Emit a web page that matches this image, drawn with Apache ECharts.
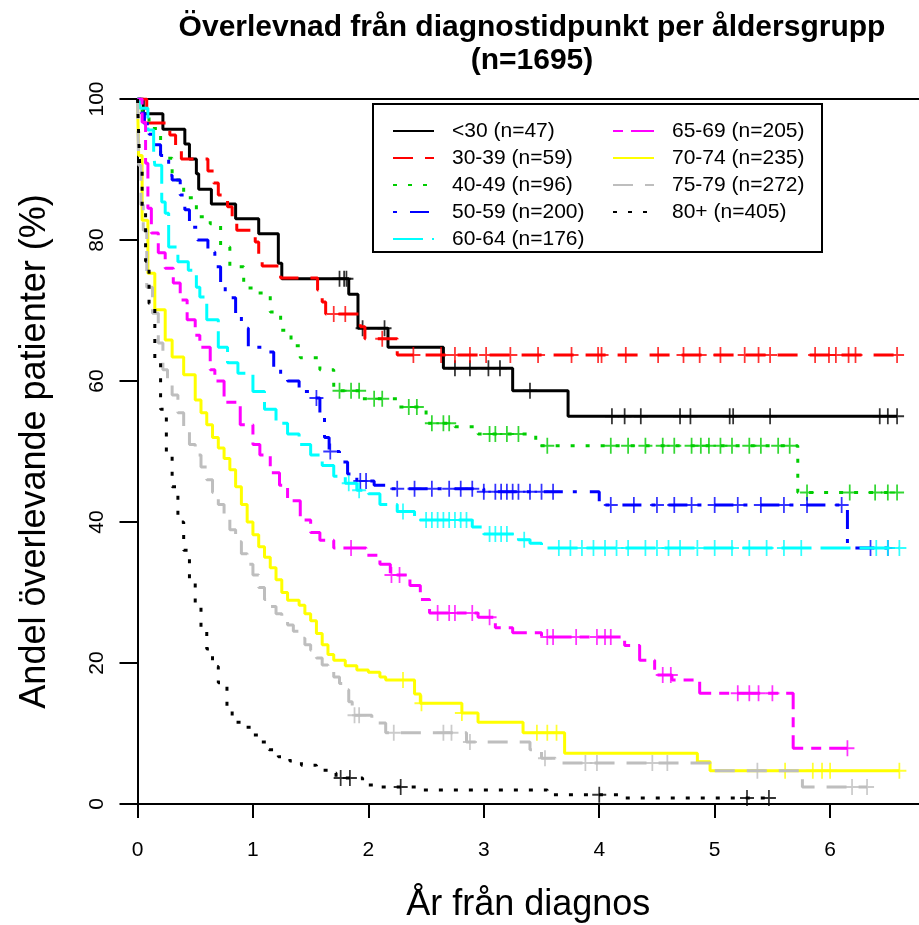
<!DOCTYPE html>
<html><head><meta charset="utf-8">
<script src="https://cdn.jsdelivr.net/npm/echarts@6/dist/echarts.min.js"></script>
<style>html,body{margin:0;padding:0;background:#fff}#c{width:919px;height:925px}</style>
</head><body><div id="c"></div>
<script>
// ---------- DATA ----------
const groupNames = ['<30 (n=47)','30-39 (n=59)','40-49 (n=96)','50-59 (n=200)','60-64 (n=176)','65-69 (n=205)','70-74 (n=235)','75-79 (n=272)','80+ (n=405)'];
const xTicks = [0,1,2,3,4,5,6];
const yTicks = [0,20,40,60,80,100];

// <30
const t_lt30 = [0,0.05,0.22,0.41,0.45,0.51,0.53,0.64,0.85,1.05,1.22,1.25,1.83,1.91,2.17,2.65,3.25,3.73];
const s_lt30 = [100,97.9,95.7,93.6,91.5,89.4,87.2,85.1,83.0,80.9,76.7,74.5,72.3,67.5,64.8,61.8,58.6,55.0];
const c_lt30 = [1.75,1.79,1.81,1.95,2.14,2.75,2.88,3.04,3.14,3.40,4.11,4.22,4.36,4.70,4.79,5.13,5.16,5.48,6.43,6.50,6.58];
// 30-39
const t_30 = [0,0.08,0.28,0.33,0.38,0.61,0.66,0.70,0.78,0.82,0.86,1.02,1.05,1.08,1.24,1.56,1.60,1.63,1.93,1.97,2.25];
const s_30 = [100,96.6,94.9,93.2,91.5,89.8,88.1,86.4,84.7,83.0,81.4,79.7,77.9,76.3,74.6,72.9,71.2,69.5,67.7,66.0,63.7];
const c_30 = [1.70,1.80,2.12,2.39,2.63,2.75,2.88,3.02,3.23,3.47,3.76,3.99,4.02,4.23,4.51,4.73,4.87,5.05,5.26,5.38,5.48,5.87,5.99,6.05,6.16,6.22,6.58];
// 40-49
const t_40 = [0,0.04,0.1,0.2,0.3,0.4,0.51,0.63,0.72,0.8,0.92,1.02,1.15,1.24,1.33,1.41,1.58,1.70,1.95,2.25,2.5,2.75,2.95,3.45,5.72];
const s_40 = [100,97.9,95.8,91.6,88.5,86.0,83.3,82.3,79.0,76.2,73.2,72.5,69.8,67.2,65.0,63.3,61.6,58.6,57.5,56.3,54.0,53.5,52.5,50.8,44.2];
const c_40 = [1.75,1.85,1.92,2.05,2.12,2.35,2.42,2.55,2.65,2.70,3.05,3.10,3.20,3.30,3.55,4.10,4.25,4.40,4.55,4.65,4.80,4.88,4.95,5.05,5.15,5.30,5.40,5.55,5.65,5.80,6.17,6.39,6.50,6.58];
// 50-59
const t_50 = [0,0.03,0.06,0.1,0.15,0.2,0.27,0.3,0.37,0.41,0.45,0.52,0.61,0.67,0.72,0.76,0.85,0.9,0.96,1.09,1.18,1.24,1.3,1.4,1.5,1.58,1.62,1.66,1.75,1.82,1.9,2.05,2.2,3.0,4.0,6.15];
const s_50 = [100,98,96.5,95,93.5,92,89.2,88.5,86.4,84.3,81.8,80,78.3,76.2,74,71.8,69.4,67.5,64.8,64.1,62.0,60.6,60.0,58.5,57.6,55,52,50.0,48.5,46.8,45.8,45.2,44.7,44.3,42.4,36.3];
const c_50 = [1.55,1.67,1.93,1.98,2.25,2.4,2.55,2.7,2.8,2.9,3.0,3.1,3.15,3.2,3.25,3.3,3.4,3.5,3.6,4.1,4.3,4.5,4.65,4.8,5.0,5.2,5.4,5.6,5.8,6.1,6.35,6.5];
// 60-64
const t_60 = [0,0.02,0.09,0.14,0.15,0.21,0.24,0.27,0.35,0.44,0.51,0.54,0.6,0.7,0.78,0.87,1.0,1.1,1.2,1.3,1.4,1.5,1.6,1.7,1.8,1.9,2.0,2.1,2.25,2.4,2.9,3.0,3.3,3.4,3.5];
const s_60 = [100,98.7,95.6,92.3,90.6,85.4,83.8,79.0,76.9,75.7,73.3,71.9,68.7,64.8,62.6,61.1,58.5,56.0,54.0,52.5,51.0,49.5,48.0,46.5,45.5,44.5,44.0,42.5,41.5,40.3,39.3,38.3,37.5,37.0,36.3];
const c_60 = [1.83,1.92,2.3,2.5,2.55,2.6,2.65,2.7,2.75,2.8,2.85,3.05,3.1,3.15,3.2,3.35,3.65,3.75,3.85,3.95,4.05,4.15,4.25,4.4,4.5,4.6,4.7,4.85,5.0,5.15,5.3,5.45,5.6,5.75,6.4,6.5,6.6];
// 65-69
const t_65 = [0,0.04,0.07,0.09,0.12,0.18,0.24,0.31,0.37,0.43,0.5,0.54,0.63,0.67,0.75,0.89,1.0,1.06,1.15,1.23,1.3,1.41,1.5,1.58,1.7,1.98,2.1,2.19,2.36,2.45,2.53,2.95,3.1,3.25,3.5,4.22,4.35,4.48,4.63,4.87,5.68];
const s_65 = [100,96.7,90.9,84.5,81.0,78.2,76.0,73.9,71.5,68.7,66.5,64.8,61.6,60.0,57.0,53.8,51.0,49.5,47.0,45.2,43.0,40.3,38.5,37.4,36.3,35.3,34.0,32.5,31.0,29.0,27.1,26.5,25.0,24.3,23.7,22.5,20.4,18.3,17.6,15.7,7.9];
const c_65 = [1.85,2.2,2.27,2.6,2.7,2.75,2.9,3.05,3.55,3.6,3.8,3.98,4.05,4.1,4.55,4.62,5.2,5.3,5.38,5.5,6.15];
// 70-74
const t_70 = [0,0.01,0.04,0.09,0.15,0.24,0.3,0.4,0.5,0.55,0.6,0.65,0.7,0.75,0.8,0.85,0.9,0.95,1.0,1.05,1.1,1.15,1.2,1.25,1.3,1.4,1.45,1.5,1.55,1.6,1.65,1.7,1.8,1.9,2.0,2.1,2.15,2.4,2.45,2.81,2.95,3.34,3.7,4.85,4.96];
const s_70 = [100,92,82.8,75.3,70.1,65.8,63.4,60.9,57.3,55.5,53.8,52.0,50.5,49.0,47.4,45.0,42.5,40.0,38.2,36.5,35.0,33.5,31.8,30.0,28.9,28.2,27.0,26.0,24.2,22.6,21.2,20.4,19.6,19.0,18.7,18.0,17.6,15.6,14.3,12.9,11.6,10.1,7.2,6.0,4.7];
const c_70 = [2.3,2.46,2.81,3.46,3.55,3.63,5.61,5.85,5.93,6.0,6.6];
// 75-79
const t_75 = [0,0.01,0.03,0.05,0.08,0.13,0.18,0.22,0.26,0.3,0.35,0.4,0.45,0.5,0.55,0.6,0.65,0.7,0.75,0.8,0.85,0.9,0.95,1.0,1.05,1.1,1.15,1.2,1.25,1.3,1.35,1.4,1.45,1.5,1.55,1.6,1.65,1.7,1.75,1.8,1.83,1.86,2.03,2.15,2.85,3.4,3.5,3.62,4.96,5.76];
const s_75 = [100,90.6,85,81.4,73.3,69.6,65.4,61.6,60.0,58.0,55.5,53.0,51.0,49.5,47.8,46.0,44.2,42.5,40.7,38.9,37.2,35.5,34.0,32.5,30.7,29.0,28.0,27.0,26.2,25.4,24.5,23.5,22.6,21.8,20.7,19.7,18.8,18.0,17.1,16.2,14.5,12.6,11.5,10.1,8.8,7.7,6.5,5.8,4.7,2.4];
const c_75 = [1.88,1.92,2.22,2.65,2.72,2.88,3.53,3.88,3.98,4.46,4.59,5.37,6.19,6.32];
// 80+
const t_80 = [0,0.01,0.02,0.04,0.07,0.1,0.15,0.2,0.25,0.3,0.35,0.4,0.45,0.5,0.55,0.6,0.65,0.7,0.775,0.82,0.92,0.98,1.06,1.14,1.22,1.32,1.42,1.55,1.65,1.72,1.95,2.05,2.45,3.55,4.2];
const s_80 = [100,95,90,84,77,71,63,56,50,45,40,36,32,28.5,25,22,19.5,17.2,13.6,11.6,10.9,9.8,8.8,7.7,6.7,6.1,5.5,4.8,4.4,3.7,2.7,2.4,2.0,1.3,0.85];
const c_80 = [1.76,1.84,2.28,4.0,5.28,5.47];

const times = [t_lt30,t_30,t_40,t_50,t_60,t_65,t_70,t_75,t_80];
const survs = [s_lt30,s_30,s_40,s_50,s_60,s_65,s_70,s_75,s_80];
const cens  = [c_lt30,c_30,c_40,c_50,c_60,c_65,c_70,c_75,c_80];

// ---------- STYLE ----------
const colors = ['#000000','#ff0000','#00cd00','#0000ff','#00ffff','#ff00ff','#ffff00','#bebebe','#000000'];
const dashes = ['solid',[20,12],[4,11],[4,13,19,10],[30,9],[10,8,23,8],'solid',[20,12],[4,11]];
const FONT = 'Liberation Sans, Arial, sans-serif';

function survAt(ts, ss, t){ let v = ss[0]; for (let i=0;i<ts.length;i++){ if (ts[i] <= t) v = ss[i]; } return v; }

const series = [];
groupNames.forEach((name,i)=>{
  const ts = times[i], ss = survs[i], cs = cens[i];
  const pts = ts.map((t,k)=>[t, ss[k]]);
  const lastC = cs.length ? cs[cs.length-1] : ts[ts.length-1];
  if (lastC > ts[ts.length-1]) pts.push([lastC, ss[ss.length-1]]);
  series.push({
    name, type:'line', step:'end', data: pts, symbol:'none', showSymbol:false,
    lineStyle:{color:colors[i], width:3, type:dashes[i]}, itemStyle:{color:colors[i]},
    z: 2+i, animation:false, silent:true
  });
  series.push({
    name: name + ' censur', type:'scatter', data: cs.map(t=>[t, survAt(ts, ss, t)]),
    symbol:'path://M0,7L16,7L16,9L0,9ZM7,0L9,0L9,16L7,16Z', symbolSize:[14,16],
    itemStyle:{color:colors[i]}, z: 2+i, animation:false, silent:true
  });
});

const legendBase = {
  orient:'vertical', top:120.5, padding:0, itemWidth:41, itemHeight:14, itemGap:6,
  itemStyle:{opacity:0},
  textStyle:{fontFamily:FONT, fontSize:21, lineHeight:21, color:'#000', padding:[0,0,0,13]}
};

const chart = echarts.init(document.getElementById('c'), null, {renderer:'canvas'});
chart.setOption({
  animation:false,
  backgroundColor:'#fff',
  textStyle:{fontFamily:FONT},
  title:{
    text:'Överlevnad från diagnostidpunkt per åldersgrupp\n(n=1695)',
    left:532, top:11, textAlign:'center', padding:0,
    textStyle:{fontFamily:FONT, fontWeight:'bold', fontSize:30, lineHeight:33, color:'#000'}
  },
  grid:{left:137.5, right:0, top:99, bottom:121, containLabel:false, outerBoundsMode:'none'},
  xAxis:[{
    type:'value', min:0, max:6.77, position:'bottom',
    name:'År från diagnos', nameLocation:'middle', nameGap:83,
    nameTextStyle:{fontFamily:FONT, fontSize:36, color:'#000'},
    axisLine:{show:true, lineStyle:{color:'#000', width:2}},
    axisTick:{show:true, length:14, lineStyle:{color:'#000', width:2}, customValues:xTicks},
    axisLabel:{fontFamily:FONT, fontSize:21, color:'#000', margin:36, customValues:xTicks},
    splitLine:{show:false}
  },{
    type:'value', min:0, max:6.77, position:'top',
    axisLine:{show:true, lineStyle:{color:'#000', width:2}},
    axisTick:{show:false}, axisLabel:{show:false}, splitLine:{show:false}
  }],
  yAxis:{
    type:'value', min:0, max:100, interval:20,
    name:'Andel överlevande patienter (%)', nameLocation:'middle', nameGap:84,
    nameTextStyle:{fontFamily:FONT, fontSize:36, color:'#000'},
    axisLine:{show:true, lineStyle:{color:'#000', width:2}},
    axisTick:{show:true, length:18, lineStyle:{color:'#000', width:2}, customValues:yTicks},
    axisLabel:{fontFamily:FONT, fontSize:21, color:'#000', rotate:90, margin:30, customValues:yTicks},
    splitLine:{show:false}
  },
  legend:[
    Object.assign({}, legendBase, {data:groupNames.slice(0,5), left:392}),
    Object.assign({}, legendBase, {data:groupNames.slice(5), left:612})
  ],
  graphic:[{
    type:'rect', shape:{x:373, y:104, width:449, height:148}, z:-1,
    style:{fill:'#fff', stroke:'#000', lineWidth:2}
  }],
  series
});
</script></body></html>
